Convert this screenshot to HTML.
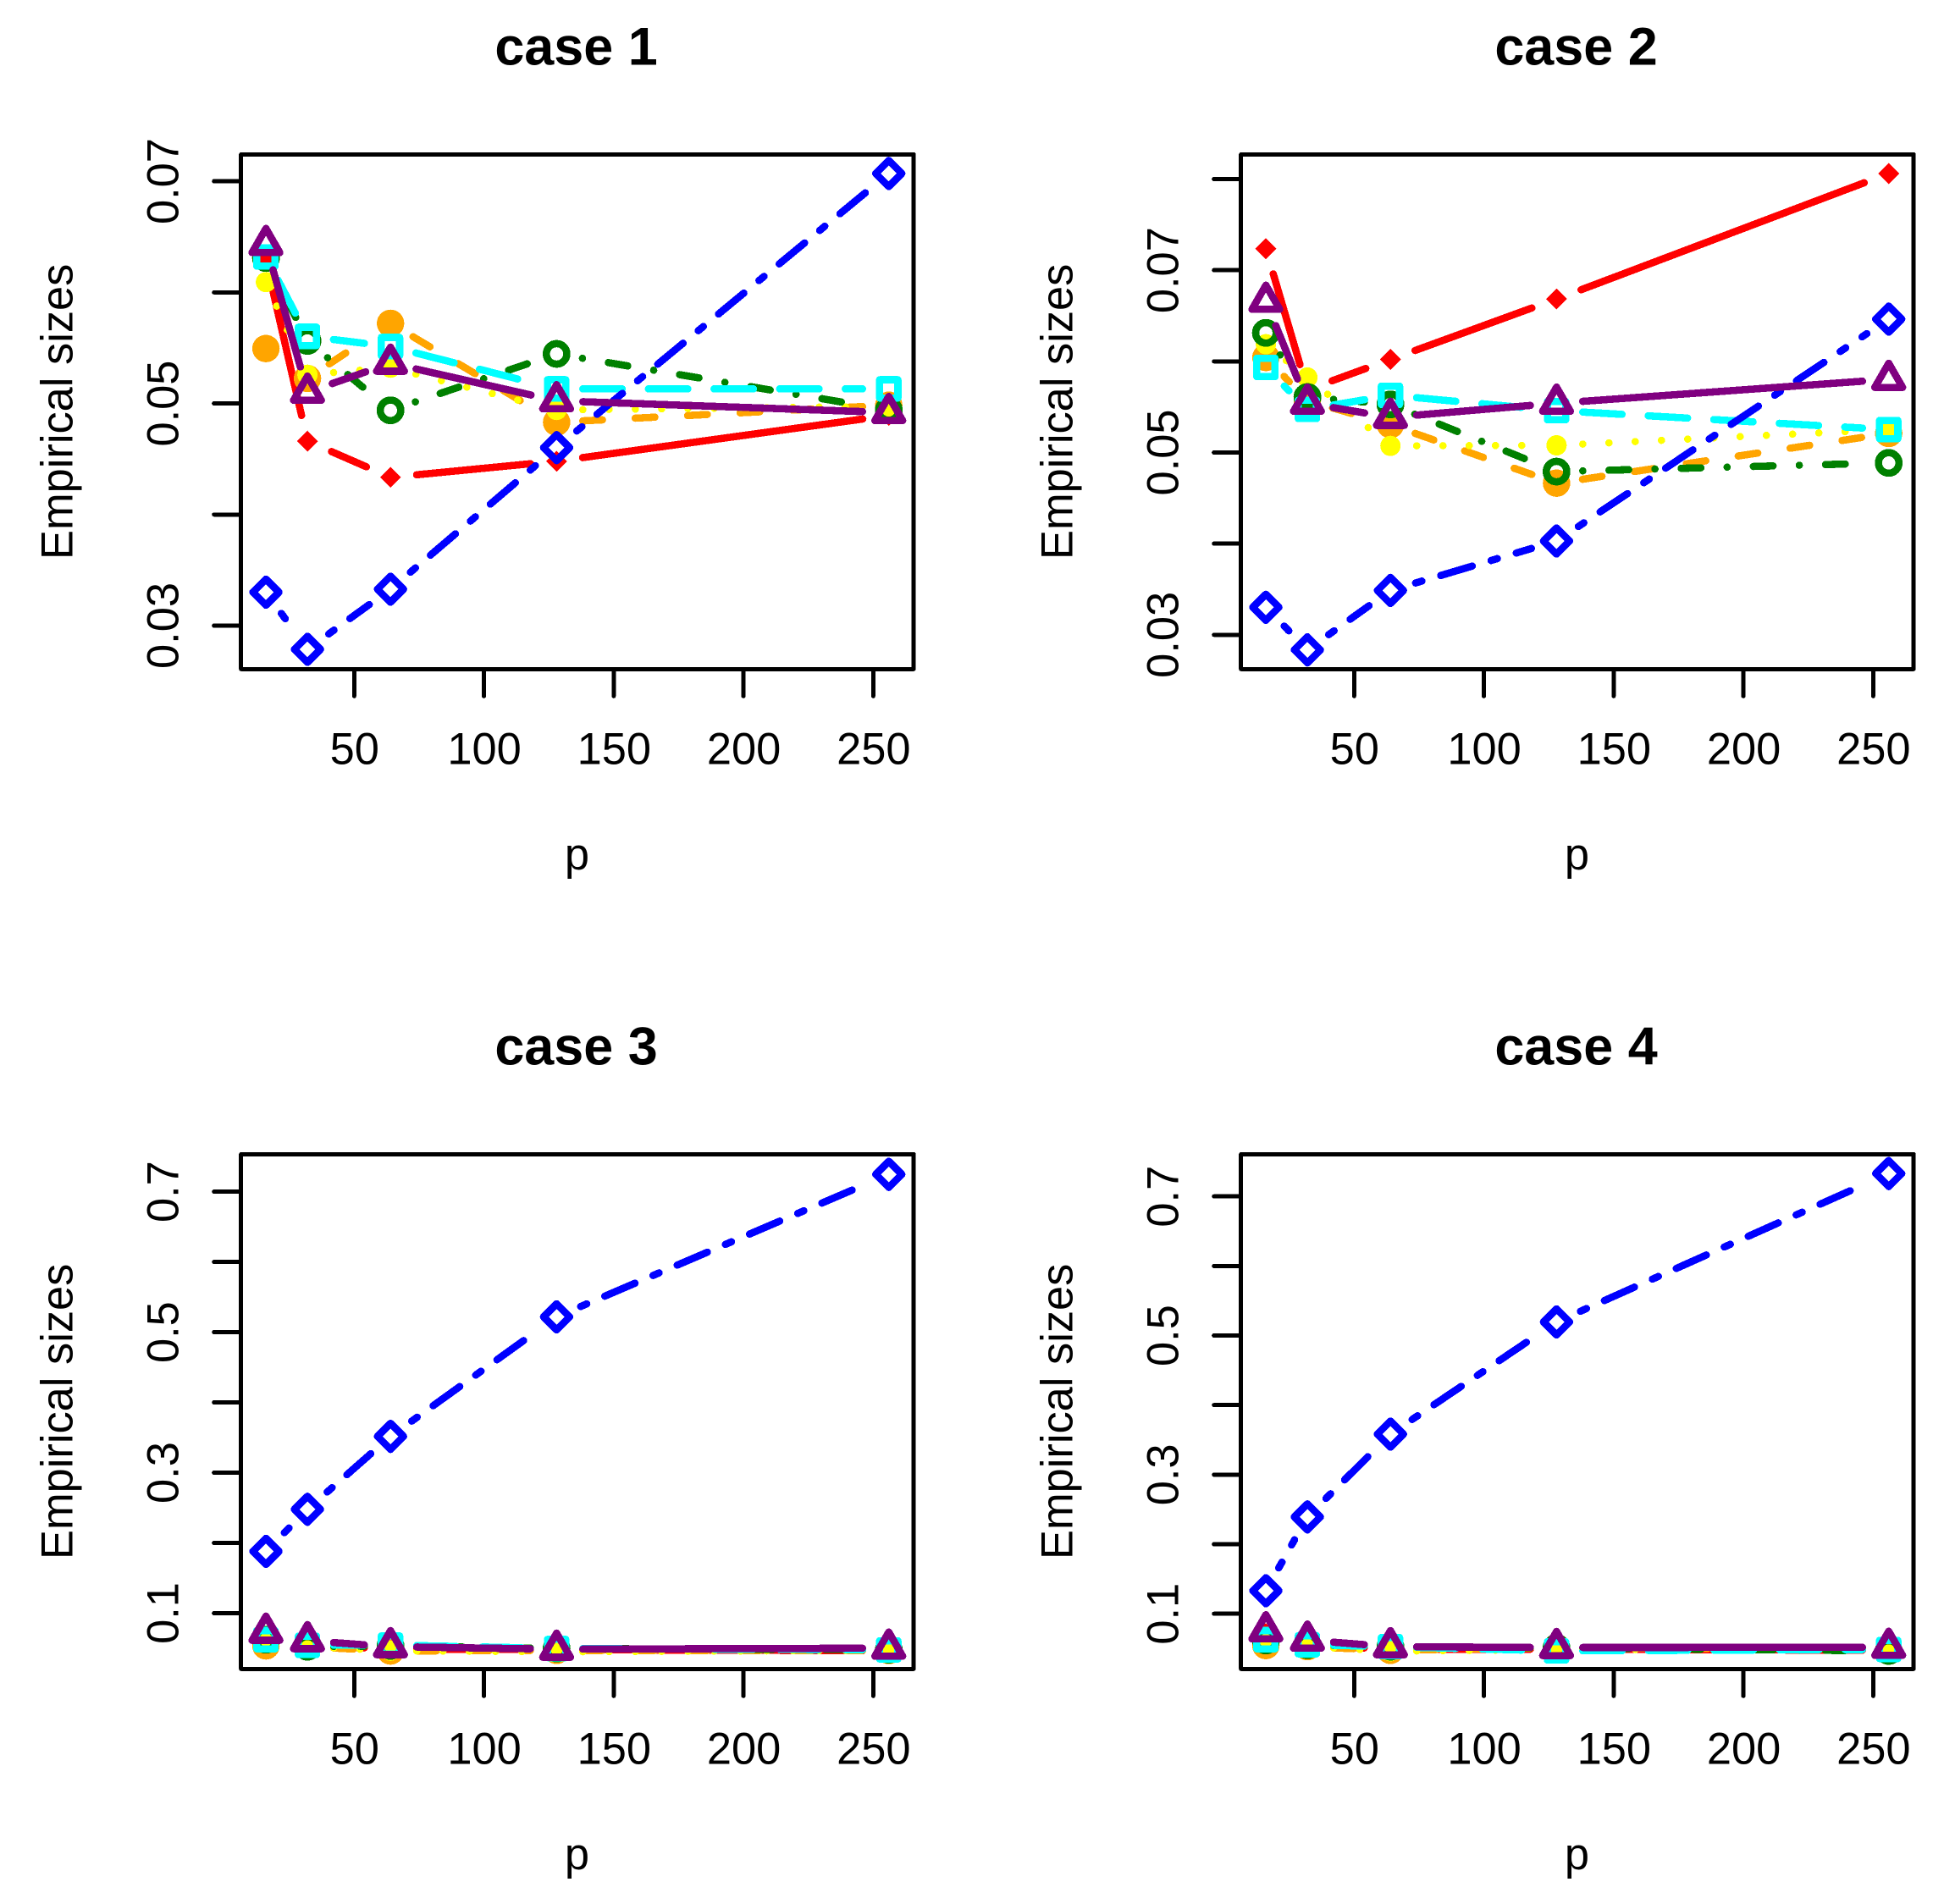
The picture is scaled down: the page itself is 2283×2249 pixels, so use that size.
<!DOCTYPE html>
<html lang="en">
<head>
<meta charset="utf-8">
<title>Empirical sizes by case</title>
<style>
html,body{margin:0;padding:0;background:#fff;}
svg{display:block;}
text{font-family:"Liberation Sans",sans-serif;fill:#000;}
</style>
</head>
<body>
<svg id="chart" xmlns="http://www.w3.org/2000/svg" width="2283" height="2249" viewBox="0 0 2283 2249"></svg>
<script>
const pValues = [16, 32, 64, 128, 256];
const xTicks = [50, 100, 150, 200, 250];

const case1Red = [0.06293, 0.04667, 0.04341, 0.04486, 0.04898];
const case1Orange = [0.0550, 0.05231, 0.05727, 0.04837, 0.0499];
const case1Yellow = [0.06098, 0.05264, 0.05328, 0.04947, 0.0498];
const case1Green = [0.06314, 0.05569, 0.04944, 0.05452, 0.04947];
const case1Cyan = [0.06324, 0.0561, 0.05518, 0.05137, 0.05137];
const case1Blue = [0.03307, 0.02793, 0.03334, 0.04608, 0.07076];
const case1Purple = [0.06436, 0.05107, 0.05368, 0.0503, 0.04924];
const case1YTicks = [0.03, 0.04, 0.05, 0.06, 0.07];
const case1YLabels = ["0.03", "", "0.05", "", "0.07"];
const case1YDomain = [0.02609, 0.07242];

const case2Red = [0.07243, 0.05695, 0.06028, 0.06691, 0.08068];
const case2Orange = [0.0605, 0.05576, 0.05312, 0.04671, 0.05216];
const case2Yellow = [0.06195, 0.0583, 0.0508, 0.05086, 0.05259];
const case2Green = [0.0632, 0.05616, 0.05535, 0.04798, 0.04893];
const case2Cyan = [0.05941, 0.0548, 0.05635, 0.05467, 0.05259];
const case2Blue = [0.03309, 0.02842, 0.03494, 0.04036, 0.06471];
const case2Purple = [0.06666, 0.05548, 0.05393, 0.05548, 0.0581];
const case2YTicks = [0.03, 0.04, 0.05, 0.06, 0.07, 0.08];
const case2YLabels = ["0.03", "", "0.05", "", "0.07", ""];
const case2YDomain = [0.02624, 0.08271];

const case3Red = [0.068, 0.055, 0.05, 0.049, 0.0475];
const case3Orange = [0.0544, 0.0533, 0.0471, 0.048, 0.0479];
const case3Yellow = [0.068, 0.0535, 0.0475, 0.0459, 0.048];
const case3Green = [0.0632, 0.0532, 0.0544, 0.0507, 0.049];
const case3Cyan = [0.0632, 0.0552, 0.0556, 0.0507, 0.0487];
const case3Blue = [0.189, 0.2488, 0.3526, 0.5228, 0.7256];
const case3Purple = [0.0738, 0.0618, 0.0533, 0.0497, 0.0512];
const case3YTicks = [0.1, 0.2, 0.3, 0.4, 0.5, 0.6, 0.7];
const case3YLabels = ["0.1", "", "0.3", "", "0.5", "", "0.7"];
const case3YDomain = [0.0207, 0.7534];

const case4Red = [0.0723, 0.056, 0.05, 0.05, 0.0485];
const case4Orange = [0.0553, 0.0537, 0.0484, 0.0525, 0.0495];
const case4Yellow = [0.0645, 0.054, 0.0472, 0.0495, 0.0495];
const case4Green = [0.0626, 0.056, 0.0537, 0.052, 0.0476];
const case4Cyan = [0.0638, 0.0565, 0.0537, 0.0476, 0.0497];
const case4Blue = [0.1341, 0.2402, 0.3592, 0.5205, 0.7338];
const case4Purple = [0.0765, 0.0631, 0.0537, 0.0525, 0.0528];
const case4YTicks = [0.1, 0.2, 0.3, 0.4, 0.5, 0.6, 0.7];
const case4YLabels = ["0.1", "", "0.3", "", "0.5", "", "0.7"];
const case4YDomain = [0.0208, 0.7607];

const NS = "http://www.w3.org/2000/svg";
const svg = document.getElementById("chart");
const LW = 7.75, STROKE = 8.6, GAP = 31, BOX = 5;
const MARK_SHIFT = 0.8;
const PLOT_W = 794.5, PLOT_H = 608;
const LABEL_SIZE = 52.4, TITLE_SIZE = 62.9;

function make(tag, parent, attrs) {
  const el = document.createElementNS(NS, tag);
  for (const k in attrs) el.setAttribute(k, attrs[k]);
  parent.appendChild(el);
  return el;
}
function dash(spec) {
  if (!spec) return "none";
  return spec.map(function (u, i) {
    return (i % 2 === 0 ? Math.max(u - 1, 0.002) : u + 1) * LW;
  }).join(" ");
}
function marker(g, kind, color, px, py) {
  const base = {fill: "none", stroke: color, "stroke-width": STROKE, "stroke-linejoin": "round", "shape-rendering": "crispEdges"};
  let el;
  if (kind === "filled-diamond") {
    el = make("polygon", g, {points: [px, py - 12.4, px + 12.4, py, px, py + 12.4, px - 12.4, py].join(" "), fill: color, "shape-rendering": "crispEdges"});
  } else if (kind === "filled-circle") {
    el = make("circle", g, {cx: px, cy: py, r: 16.2, fill: color, "shape-rendering": "crispEdges"});
  } else if (kind === "bullet") {
    el = make("circle", g, {cx: px, cy: py, r: 12, fill: color, "shape-rendering": "crispEdges"});
  } else if (kind === "open-circle") {
    el = make("circle", g, Object.assign({cx: px, cy: py, r: 12.1}, base));
  } else if (kind === "open-square") {
    el = make("rect", g, Object.assign({x: px - 10.8, y: py - 10.8, width: 21.6, height: 21.6}, base));
  } else if (kind === "open-diamond") {
    el = make("polygon", g, Object.assign({points: [px, py - 15.4, px + 15.4, py, px, py + 15.4, px - 15.4, py].join(" ")}, base));
  } else {
    el = make("polygon", g, Object.assign({points: [px, py - 19, px + 16.4, py + 9.5, px - 16.4, py + 9.5].join(" ")}, base));
  }
  
  
}
function drawSeries(g, values, xOf, yOf, color, spec, kind) {
  const pts = values.map(function (v, i) { return [xOf(pValues[i]), yOf(v) + MARK_SHIFT]; });
  for (let i = 0; i < pts.length - 1; i++) {
    const a = pts[i], b = pts[i + 1];
    const d = Math.hypot(b[0] - a[0], b[1] - a[1]);
    if (d <= 2 * GAP) continue;
    const ux = (b[0] - a[0]) / d, uy = (b[1] - a[1]) / d;
    const seg = make("line", g, {
      x1: a[0] + ux * GAP, y1: a[1] + uy * GAP,
      x2: b[0] - ux * GAP, y2: b[1] - uy * GAP,
      stroke: color, "stroke-width": STROKE, "stroke-linecap": "round",
      "stroke-dasharray": dash(spec), "shape-rendering": "crispEdges"
    });
    
    
  }
  pts.forEach(function (p) { marker(g, kind, color, p[0], p[1]); });
}
function drawPanel(title, ox, oy, domain, yTicks, yLabels, series) {
  const left = 284.7 + ox, top = 182.3 + oy, bottom = top + PLOT_H, right = left + PLOT_W;
  const xOf = function (p) { return 418.3 + ox + (p - 50) * 3.065; };
  const yOf = function (v) { return bottom - (v - domain[0]) / (domain[1] - domain[0]) * PLOT_H; };
  const panel = make("g", svg, {});
  
  

  const t = make("text", panel, {x: 680.5 + ox, y: 76.5 + oy, "text-anchor": "middle", "font-size": TITLE_SIZE, "font-weight": "bold"});
  t.textContent = title;
  
  

  const xl = make("text", panel, {x: 681.5 + ox, y: 1027 + oy, "text-anchor": "middle", "font-size": LABEL_SIZE});
  xl.textContent = "p";
  
  

  const ylx = 85.5 + ox, yly = (top + bottom) / 2;
  const yl = make("text", panel, {x: ylx, y: yly, "text-anchor": "middle", "font-size": LABEL_SIZE, transform: "rotate(-90 " + ylx + " " + yly + ")"});
  yl.textContent = "Empirical sizes";
  
  

  xTicks.forEach(function (tick) {
    const x = xOf(tick);
    const ln = make("line", panel, {x1: x, y1: bottom, x2: x, y2: bottom + 32, stroke: "#000", "stroke-width": BOX, "stroke-linecap": "round", "shape-rendering": "crispEdges"});
    
    
    const lb = make("text", panel, {x: x + 0.5, y: 902.5 + oy, "text-anchor": "middle", "font-size": LABEL_SIZE});
    lb.textContent = String(tick);
    
    
  });
  yTicks.forEach(function (tick, i) {
    const y = yOf(tick);
    const ln = make("line", panel, {x1: left, y1: y, x2: left - 32, y2: y, stroke: "#000", "stroke-width": BOX, "stroke-linecap": "round", "shape-rendering": "crispEdges"});
    
    
    if (yLabels[i]) {
      const lx = 210.7 + ox;
      const lb = make("text", panel, {x: lx, y: y, "text-anchor": "middle", "font-size": LABEL_SIZE, transform: "rotate(-90 " + lx + " " + y + ")"});
      lb.textContent = yLabels[i];
      
      
    }
  });

  drawSeries(panel, series.red, xOf, yOf, "#ff0000", null, "filled-diamond");
  drawSeries(panel, series.orange, xOf, yOf, "#ffa500", [4, 4], "filled-circle");
  drawSeries(panel, series.yellow, xOf, yOf, "#ffff00", [1, 3], "bullet");
  drawSeries(panel, series.green, xOf, yOf, "#008000", [1, 3, 4, 3], "open-circle");
  drawSeries(panel, series.cyan, xOf, yOf, "#00ffff", [7, 3], "open-square");
  drawSeries(panel, series.blue, xOf, yOf, "#0000ff", [2, 2, 6, 2], "open-diamond");
  drawSeries(panel, series.purple, xOf, yOf, "#800080", null, "open-triangle");

  const frame = make("rect", panel, {x: left, y: top, width: PLOT_W, height: PLOT_H, fill: "none", stroke: "#000", "stroke-width": BOX, "stroke-linejoin": "round", "shape-rendering": "crispEdges"});
  
  
}

drawPanel("case 1", 0, 0, case1YDomain, case1YTicks, case1YLabels, {red: case1Red, orange: case1Orange, yellow: case1Yellow, green: case1Green, cyan: case1Cyan, blue: case1Blue, purple: case1Purple});
drawPanel("case 2", 1181, 0, case2YDomain, case2YTicks, case2YLabels, {red: case2Red, orange: case2Orange, yellow: case2Yellow, green: case2Green, cyan: case2Cyan, blue: case2Blue, purple: case2Purple});
drawPanel("case 3", 0, 1181, case3YDomain, case3YTicks, case3YLabels, {red: case3Red, orange: case3Orange, yellow: case3Yellow, green: case3Green, cyan: case3Cyan, blue: case3Blue, purple: case3Purple});
drawPanel("case 4", 1181, 1181, case4YDomain, case4YTicks, case4YLabels, {red: case4Red, orange: case4Orange, yellow: case4Yellow, green: case4Green, cyan: case4Cyan, blue: case4Blue, purple: case4Purple});
</script>
</body>
</html>
